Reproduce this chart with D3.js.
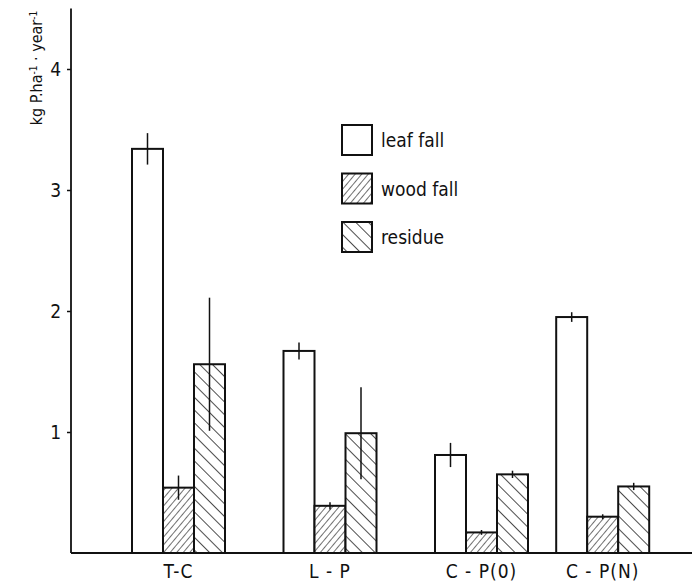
<!DOCTYPE html>
<html>
<head>
<meta charset="utf-8">
<script src="https://cdn.jsdelivr.net/npm/d3@7"></script>
<style>
  html, body { margin: 0; padding: 0; background: #fff; }
  svg { display: block; }
  text { font-family: "Liberation Sans Narrow", "DejaVu Sans Condensed", "Liberation Sans", sans-serif; fill: #111; }
</style>
</head>
<body>
<svg id="chart" width="696" height="584"></svg>
<script>
// Sites
const categories = ["T-C", "L - P", "C - P(0)", "C - P(N)"];
// Litter components
const series = ["leaf fall", "wood fall", "residue"];
// P flux (kg P ha-1 year-1) and error half-widths
const leafFall    = [3.34, 1.67, 0.81, 1.95];
const leafFallErr = [0.13, 0.07, 0.10, 0.04];
const woodFall    = [0.54, 0.39, 0.17, 0.30];
const woodFallErr = [0.10, 0.03, 0.02, 0.02];
const residue     = [1.56, 0.99, 0.65, 0.55];
const residueErr  = [0.55, 0.38, 0.03, 0.03];
const yTicks = [1, 2, 3, 4];

// Layout: group slots along the x axis (last pair of sites sits closer together)
const groupSlots = [0, 1, 2, 2.8];

const values = [leafFall, woodFall, residue];
const errors = [leafFallErr, woodFallErr, residueErr];
const fills = ["#fff", "url(#hatchWood)", "url(#hatchResidue)"];

const svg = d3.select("#chart");
const ink = "#111";

const y = d3.scaleLinear().domain([0, 4]).range([553, 69]);
const x = d3.scaleLinear().domain([0, 1]).range([178.5, 330]);
const sub = d3.scaleBand().domain(series).range([-46.5, 46.5]).padding(0);

// Hatch patterns
const defs = svg.append("defs");
function hatch(id, spacing, angle, width) {
  const p = defs.append("pattern")
    .attr("id", id)
    .attr("patternUnits", "userSpaceOnUse")
    .attr("width", spacing).attr("height", spacing)
    .attr("patternTransform", `rotate(${angle})`);
  p.append("rect").attr("width", spacing).attr("height", spacing).attr("fill", "#fff");
  p.append("line").attr("x1", 0).attr("y1", 0).attr("x2", 0).attr("y2", spacing)
    .attr("stroke", ink).attr("stroke-width", width);
}
hatch("hatchWood", 5, 40, 1.2);
hatch("hatchResidue", 9, -45, 1.5);

// Flatten into bar records
const bars = [];
categories.forEach((c, i) => {
  series.forEach((s, j) => {
    bars.push({ cat: c, i, s, j, v: values[j][i], e: errors[j][i] });
  });
});

// Bars
svg.append("g").selectAll("rect").data(bars).join("rect")
  .attr("x", d => x(groupSlots[d.i]) + sub(d.s))
  .attr("y", d => y(d.v))
  .attr("width", sub.bandwidth())
  .attr("height", d => y(0) - y(d.v))
  .attr("fill", d => fills[d.j])
  .attr("stroke", ink)
  .attr("stroke-width", 2);

// Error bars
svg.append("g").selectAll("line").data(bars).join("line")
  .attr("x1", d => x(groupSlots[d.i]) + sub(d.s) + sub.bandwidth() / 2)
  .attr("x2", d => x(groupSlots[d.i]) + sub(d.s) + sub.bandwidth() / 2)
  .attr("y1", d => y(d.v + d.e))
  .attr("y2", d => y(Math.max(0, d.v - d.e)))
  .attr("stroke", ink)
  .attr("stroke-width", 1.5);

// Y axis
const yAxis = d3.axisLeft(y).tickValues(yTicks).tickSize(4).tickSizeOuter(0).tickFormat(d3.format("d"));
const gy = svg.append("g").attr("transform", "translate(71,0)").call(yAxis);
gy.select(".domain").remove();
gy.selectAll(".tick line").attr("stroke", ink).attr("stroke-width", 1.5);
gy.selectAll(".tick text")
  .attr("x", -10)
  .style("font-size", "19px")
  .attr("fill", ink);
svg.append("line")
  .attr("x1", 71).attr("x2", 71)
  .attr("y1", y(4.5)).attr("y2", y(0))
  .attr("stroke", ink).attr("stroke-width", 1.8);

// Baseline
svg.append("line")
  .attr("x1", 71).attr("x2", 692)
  .attr("y1", y(0)).attr("y2", y(0))
  .attr("stroke", ink).attr("stroke-width", 2);

// Category labels
svg.append("g").selectAll("text").data(categories).join("text")
  .attr("x", (d, i) => x(groupSlots[i]))
  .attr("y", 578)
  .attr("text-anchor", "middle")
  .style("font-size", "19px")
  .style("letter-spacing", "1px")
  .text(d => d);

// Y axis title
const title = svg.append("text")
  .attr("transform", "translate(42,68) rotate(-90)")
  .attr("text-anchor", "middle")
  .style("font-size", "16px");
title.append("tspan").text("kg P.ha");
title.append("tspan").attr("baseline-shift", "super").style("font-size", "10px").text("-1");
title.append("tspan").text(" · year");
title.append("tspan").attr("baseline-shift", "super").style("font-size", "10px").text("-1");

// Legend
const legend = svg.append("g").attr("transform", "translate(342,125)");
const item = legend.selectAll("g").data(series).join("g")
  .attr("transform", (d, j) => `translate(0,${j * 48.5})`);
item.append("rect")
  .attr("width", 30).attr("height", 30)
  .attr("fill", (d, j) => fills[j])
  .attr("stroke", ink).attr("stroke-width", 2);
item.append("text")
  .attr("x", 39).attr("y", 22)
  .style("font-size", "19px")
  .text(d => d);
</script>
</body>
</html>
